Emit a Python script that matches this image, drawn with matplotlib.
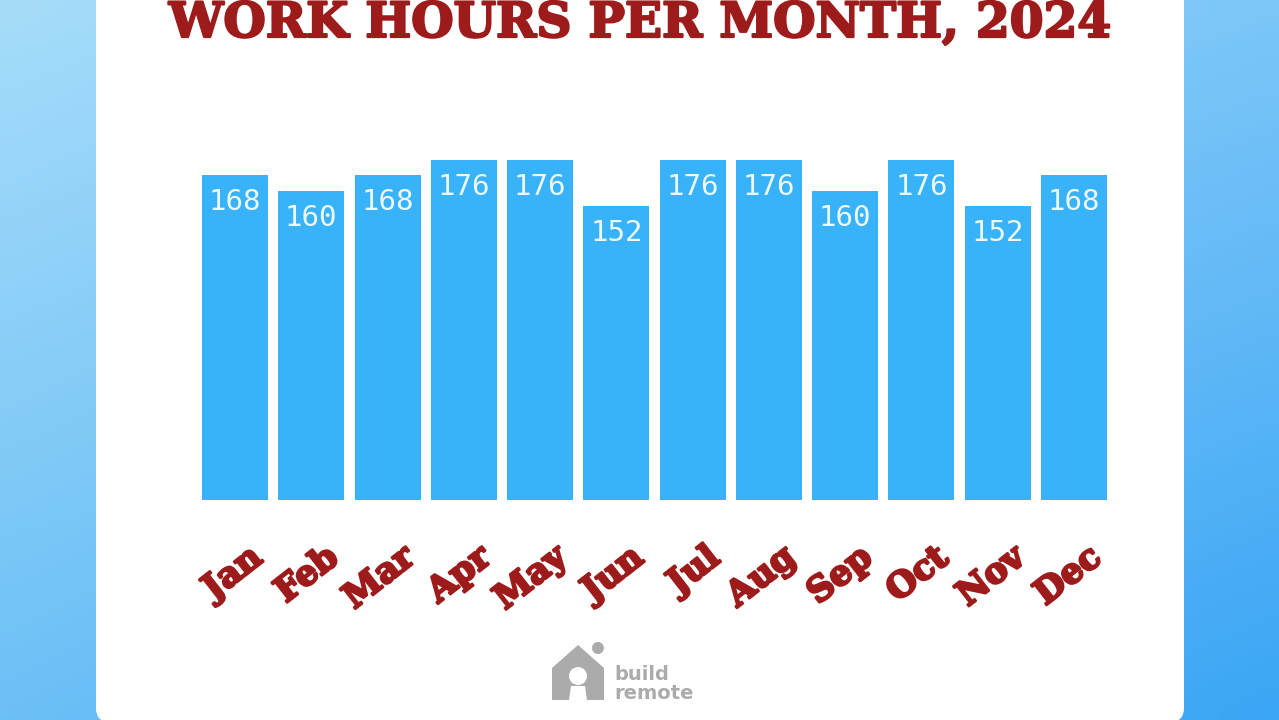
import numpy as np
import matplotlib.pyplot as plt
import matplotlib.patheffects as pe
from matplotlib.patches import FancyBboxPatch, Polygon, Circle
from matplotlib.colors import to_rgb

months = ["Jan", "Feb", "Mar", "Apr", "May", "Jun",
          "Jul", "Aug", "Sep", "Oct", "Nov", "Dec"]
hours = [168, 160, 168, 176, 176, 152, 176, 176, 160, 176, 152, 168]
title = "WORK HOURS PER MONTH, 2024"

W, H = 1279, 720
red = "#9e1b1b"
bar_color = "#38b2f8"

fig = plt.figure(figsize=(W / 100, H / 100), dpi=100)

# background layer in pixel coords
bg = fig.add_axes([0, 0, 1, 1])
bg.set_xlim(0, W)
bg.set_ylim(H, 0)
bg.axis("off")

# diagonal blue gradient
tl, tr = np.array(to_rgb("#a6dcfa")), np.array(to_rgb("#7cc6f8"))
bl, br = np.array(to_rgb("#6cc0f6")), np.array(to_rgb("#3ba6f5"))
u = np.linspace(0, 1, 64)[None, :, None]
v = np.linspace(0, 1, 36)[:, None, None]
grad = (1 - v) * ((1 - u) * tl + u * tr) + v * ((1 - u) * bl + u * br)
bg.imshow(grad, extent=[0, W, H, 0], aspect="auto", interpolation="bilinear")

# white card
card = FancyBboxPatch((96, -40), 1088, 762, boxstyle="round,pad=0,rounding_size=14",
                      fc="white", ec="none")
bg.add_patch(card)

thick = [pe.withStroke(linewidth=1.6, foreground=red)]
bg.text(640, 37, title, ha="center", va="baseline", color=red,
        fontsize=35, fontweight="bold", family="DejaVu Serif", path_effects=thick)

# logo
grey = "#ababab"
house = Polygon([(552, 700), (552, 668), (578, 645), (604, 668), (604, 700)],
                closed=True, fc=grey, ec="none")
bg.add_patch(house)
bg.add_patch(Circle((578, 676), 9, fc="white", ec="none"))
bg.add_patch(Polygon([(569, 700), (571, 686), (585, 686), (587, 700)], closed=True,
                     fc="white", ec="none"))
bg.add_patch(Circle((598, 648), 6, fc=grey, ec="none"))
bg.text(614, 680, "build", ha="left", va="baseline", color=grey, fontsize=14,
        fontweight="bold", family="DejaVu Sans")
bg.text(614, 699, "remote", ha="left", va="baseline", color=grey, fontsize=14,
        fontweight="bold", family="DejaVu Sans")

# bar chart axes
x0, pitch, y_base, scale = 235, (1074 - 235) / 11, 500, 1.932
ymax = 200
left = x0 - 0.5 * pitch
ax = fig.add_axes([left / W, (H - y_base) / H, 12 * pitch / W, ymax * scale / H])
ax.set_xlim(-0.5, 11.5)
ax.set_ylim(0, ymax)
ax.axis("off")

x = np.arange(len(months))
ax.bar(x, hours, width=0.865, color=bar_color)

for i, v in enumerate(hours):
    ax.text(i, v - 14, str(v), ha="center", va="center", color="#eef8ff",
            fontsize=21, family="DejaVu Sans Mono")
    ax.text(i + 0.3, -27.5, months[i], ha="right", va="center", rotation=38,
            rotation_mode="anchor", color=red, fontsize=25, fontweight="bold",
            family="DejaVu Serif", clip_on=False,
            path_effects=[pe.withStroke(linewidth=1.8, foreground=red)])

fig.savefig("out.png", dpi=100)
